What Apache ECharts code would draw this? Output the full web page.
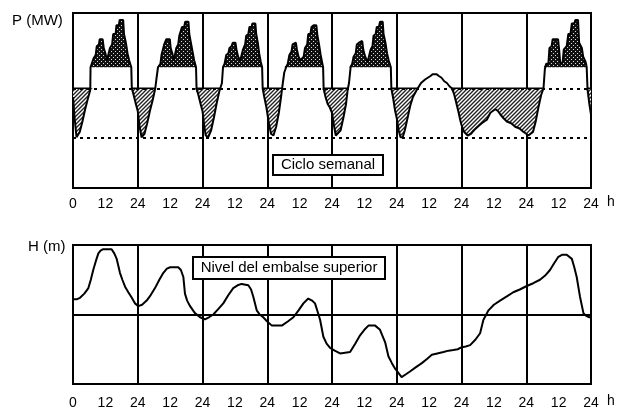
<!DOCTYPE html>
<html><head><meta charset="utf-8">
<script src="https://cdn.jsdelivr.net/npm/echarts@6/dist/echarts.min.js"></script>
<style>html,body{margin:0;padding:0;background:#fff}#c{width:618px;height:410px}</style>
</head><body><div id="c"></div>
<script>
// ---- data ----
const xTickLabels = ['0','12','24','12','24','12','24','12','24','12','24','12','24','12','24','12','24'];
const hoursMax = 192;
const dayLength = 24;
const pumpLevel = 57;     // upper dotted line
const lowLevel = 29;      // lower dotted line
const plateauLevel = 69;  // base generation level
// P (MW) per day: [hour, value]
const mon1 = [[0,52],[0.6,40],[1.3,29],[2.5,32],[3.5,38],[4.5,45],[5.5,51],[6.4,56],[6.5,69],[7.0,70],[7.6,74],[8.4,76],[8.8,81],[9.6,82],[9.9,85],[11.0,85],[11.4,80],[12.0,77],[12.6,73],[13.3,73],[13.7,80],[14.5,82],[14.9,88],[15.8,88],[16.1,93],[17.0,93],[17.3,96],[18.6,96],[18.9,88],[19.6,83],[20.2,77],[20.8,73],[21.6,69],[21.8,57],[22.5,53],[23.3,48],[24,44]];
const tue = [[24.6,36],[25.4,29],[26.5,31],[27.5,37],[28.5,44],[29.5,50],[30.5,57],[30.9,62],[31.5,69],[32.0,70],[32.4,71],[32.8,76],[33.4,76],[33.8,82],[34.4,83],[34.6,85],[35.9,85],[36.2,80],[36.8,77],[37.4,73],[38.0,72],[38.3,80],[39.0,82],[39.4,87],[40.0,88],[40.4,92],[41.2,92],[41.6,95],[42.8,95],[43.1,88],[43.7,83],[44.3,78],[44.9,73],[45.6,69],[45.8,57],[46.5,53],[47.3,48],[48,44]];
const wed = [[48.6,36],[49.2,30],[50.1,29],[51.2,33],[52.2,40],[53.2,48],[54.2,55],[54.6,57],[55.2,60],[55.6,69],[56.2,71],[56.8,76],[57.6,77],[58.0,80],[58.8,81],[59.2,83],[60.2,83],[60.6,79],[61.2,75],[62.0,73],[62.6,74],[63.0,79],[63.8,82],[64.2,87],[65.0,88],[65.4,92],[66.2,92],[66.5,94],[67.0,95],[67.6,94],[67.9,88],[68.5,83],[69.0,77],[69.6,72],[70.1,69],[70.3,57],[70.9,52],[71.7,46],[72,43]];
const thu = [[72.6,37],[73.4,31],[74.3,30],[75.3,35],[76.3,43],[77.2,53],[77.6,58],[78.3,66],[79.0,69],[79.6,71],[80.2,76],[81.0,78],[81.4,82],[82.6,83],[83.0,79],[83.6,75],[84.3,73],[85.0,72],[85.5,75],[86.0,80],[86.8,82],[87.2,88],[88.0,88],[88.4,92],[89.2,93],[89.6,94],[90.2,93],[90.6,87],[91.2,82],[91.8,76],[92.3,72],[92.7,69],[92.9,57],[93.6,52],[94.4,48],[95.2,46],[96,43]];
const fri = [[96.7,36],[97.4,30],[98.1,29],[99.2,33],[100.2,40],[101.2,48],[101.8,56],[102.3,60],[102.9,69],[103.5,71],[104.0,75],[104.8,77],[105.2,82],[106.0,83],[106.3,84],[107.2,84],[107.6,79],[108.3,75],[109.2,72],[109.9,73],[110.3,79],[111.0,81],[111.4,87],[112.2,88],[112.6,92],[113.4,92],[113.8,95],[114.8,95],[115.1,88],[115.8,83],[116.4,77],[117.0,73],[117.8,69],[118.0,57],[118.7,51],[119.4,44],[120,40]];
const sat = [[120.7,33],[121.4,29],[122.2,29],[123.0,33],[124.0,40],[125.0,47],[126.0,52],[127.4,56],[128.2,58],[129.0,60],[129.6,61],[130.5,62],[131.5,63],[132.5,64],[133.3,65],[134.0,66],[134.8,65],[135.6,64],[136.6,63],[137.6,61],[138.6,60],[139.6,58],[140.4,57],[141.2,54],[142.0,49],[142.8,44],[143.5,39],[144,36]];
const sun = [[145.0,32],[146.3,30],[147.5,31],[148.6,33],[150.0,35],[151.5,37],[153.4,39],[154.7,43],[156.5,45],[157.5,44],[158.4,42],[159.5,40],[160.8,38],[162.4,37],[163.9,35],[165.5,34],[167.0,32],[168.0,31]];
const mon2 = [[168.8,30],[169.5,29],[170.5,32],[171.5,38],[172.5,46],[173.5,53],[174.4,57],[174.9,68],[175.4,71],[176.2,71],[176.6,80],[177.4,81],[177.8,85],[179.8,85],[180.2,79],[180.6,71],[181.5,72],[181.9,79],[183.0,81],[183.6,88],[184.4,88],[184.9,94],[185.8,94],[186.2,96],[187.2,96],[187.6,83],[188.6,80],[189.1,75],[190.0,72],[190.4,69],[190.7,57],[191.3,49],[192,42]];
// H (m): reservoir level [hour, value]
const reservoirLevel = [[0,61],[1.5,61],[2.6,62],[4.2,65],[5.7,69],[6.6,75],[7.5,82],[8.4,88],[9.4,94],[10.2,96],[11.2,97],[14.3,97],[15.3,94],[16.2,90],[16.8,85],[17.4,80],[18.3,75],[19.3,70],[20.5,66],[21.8,62],[23.0,58],[24.2,56],[25.6,57],[27.3,60],[28.8,64],[30.4,69],[32.0,75],[33.5,80],[34.8,83],[36,84],[39,84],[40.0,82],[40.9,77],[41.5,65],[42.3,60],[43.4,56],[45.2,51],[47.1,48],[48.9,46.5],[50.4,48],[52,50],[53.9,54],[55.7,58],[57.6,64],[59.4,69],[61.0,71],[62.5,72],[65,71],[66.0,68],[66.8,63],[68.1,53],[69.2,50],[70.5,48],[72.0,45],[73.7,42],[77.4,42],[79.6,45],[81.7,48],[83.6,53],[85.4,58],[87.2,61.5],[88.6,60],[89.7,58],[91,50],[91.6,46],[92.8,34],[94.0,29],[95.3,26],[97.0,24],[99,22],[102.7,23],[104.6,29],[106.4,35],[108.0,39],[109.5,42],[112,42],[113.8,39],[115.7,30],[116.9,20],[118.2,15],[119.4,11],[120.6,8],[121.8,5],[123.4,7],[124.9,9],[127.0,12],[129.3,15],[131.2,18],[133,21],[135.0,22],[137.3,23],[139.2,24],[141,24.5],[142.6,25],[144.1,26.5],[145.6,27],[147.2,28],[149.2,32],[150.9,36.5],[152.1,46],[154,53],[156.0,57],[158.3,60],[160.8,63],[163.2,66],[165.6,68],[168.2,70.5],[170.6,72.5],[173.1,75],[175.0,78],[176.8,82],[178.4,87],[179.9,91.5],[181.4,93],[183,93],[184.9,90],[185.8,84],[186.7,77],[187.9,63],[189.2,51],[190.2,49],[191.4,48],[192,48]];
const topTitle = 'P (MW)';
const bottomTitle = 'H (m)';
const topLabel = 'Ciclo semanal';
const bottomLabel = 'Nivel del embalse superior';
const unitLabel = 'h';

// ---- derived ----
const power = [].concat(mon1, tue, wed, thu, fri, sat, sun, mon2);
const pumpFill = power.map(([h, v]) => [h, Math.min(v, pumpLevel)]);
const genFill = power.map(([h, v]) => [h, Math.max(v, plateauLevel)]);
const pumpEdge = power.map(([h, v], i) => {
  const p = power[i - 1], n = power[i + 1];
  const below = v < pumpLevel || (p && p[1] < pumpLevel) || (n && n[1] < pumpLevel);
  return [h, below ? pumpLevel : null];
});

function makePattern(kind) {
  const c = document.createElement('canvas');
  const ctx = c.getContext('2d');
  if (kind === 'gen') {
    c.width = 4; c.height = 4;
    ctx.fillStyle = '#111'; ctx.fillRect(0, 0, 4, 4);
    ctx.fillStyle = '#d8d8d8'; ctx.fillRect(1, 1, 1, 1); ctx.fillRect(3, 3, 1, 1);
  } else {
    c.width = 4; c.height = 4;
    ctx.fillStyle = '#fff'; ctx.fillRect(0, 0, 4, 4);
    ctx.strokeStyle = '#222'; ctx.lineWidth = 1.4;
    ctx.beginPath();
    ctx.moveTo(-1, 5); ctx.lineTo(5, -1);
    ctx.moveTo(-1, 1); ctx.lineTo(1, -1);
    ctx.moveTo(3, 5); ctx.lineTo(5, 3);
    ctx.stroke();
  }
  return { image: c, repeat: 'repeat' };
}

const labelFont = { color: '#000', fontSize: 14, fontFamily: 'Liberation Sans, Arial, sans-serif' };
function tickFmt(v) { return xTickLabels[Math.round(v / 12)]; }

const chart = echarts.init(document.getElementById('c'), null, { renderer: 'canvas' });
const grids = [
  { left: 73, top: 13, width: 518, height: 175, show: true, borderColor: '#000', borderWidth: 2, backgroundColor: '#fff' },
  { left: 73, top: 245, width: 518, height: 139, show: true, borderColor: '#000', borderWidth: 2, backgroundColor: '#fff' }
];
function labelAxis(gi, margin) {
  return { type: 'value', gridIndex: gi, min: 0, max: hoursMax, interval: 12,
    axisLine: { show: false }, axisTick: { show: false }, splitLine: { show: false },
    axisLabel: Object.assign({ margin: margin, formatter: tickFmt }, labelFont) };
}
function dayAxis(gi) {
  return { type: 'value', gridIndex: gi, min: 0, max: hoursMax, interval: dayLength, position: 'bottom',
    axisLine: { show: false }, axisTick: { show: false }, axisLabel: { show: false },
    splitLine: { show: true, lineStyle: { color: '#000', width: 2 } } };
}
chart.setOption({
  animation: false,
  backgroundColor: '#fff',
  grid: grids,
  xAxis: [labelAxis(0, 9), dayAxis(0), labelAxis(1, 12), dayAxis(1)],
  yAxis: [
    { type: 'value', gridIndex: 0, min: 0, max: 100, axisLine: { show: false }, axisTick: { show: false }, axisLabel: { show: false }, splitLine: { show: false } },
    { type: 'value', gridIndex: 1, min: 0, max: 100, interval: 50, axisLine: { show: false }, axisTick: { show: false }, axisLabel: { show: false },
      splitLine: { show: true, lineStyle: { color: '#000', width: 2 } } }
  ],
  series: [
    { type: 'line', xAxisIndex: 0, yAxisIndex: 0, data: pumpFill, symbol: 'none', silent: true,
      lineStyle: { width: 0 }, areaStyle: { origin: pumpLevel, color: makePattern('pump'), opacity: 1 },
      markLine: { silent: true, symbol: 'none', label: { show: false },
        lineStyle: { color: '#000', type: [3, 4], width: 2 },
        data: [{ yAxis: pumpLevel }, { yAxis: lowLevel }] } },
    { type: 'line', xAxisIndex: 0, yAxisIndex: 0, data: genFill, symbol: 'none', silent: true,
      lineStyle: { width: 0 }, areaStyle: { origin: plateauLevel, color: makePattern('gen'), opacity: 1 } },
    { type: 'line', xAxisIndex: 0, yAxisIndex: 0, data: pumpEdge, symbol: 'none', silent: true, connectNulls: false,
      lineStyle: { color: '#000', width: 1.5 } },
    { type: 'line', xAxisIndex: 0, yAxisIndex: 0, data: power, symbol: 'none', silent: true,
      lineStyle: { color: '#000', width: 2 } },
    { type: 'line', xAxisIndex: 2, yAxisIndex: 1, data: reservoirLevel, symbol: 'none', silent: true,
      lineStyle: { color: '#000', width: 2 } }
  ],
  graphic: [
    { type: 'text', left: 12, top: 13, style: { text: topTitle, fill: '#000', font: '15px "Liberation Sans", Arial, sans-serif' } },
    { type: 'text', left: 28, top: 239, style: { text: bottomTitle, fill: '#000', font: '15px "Liberation Sans", Arial, sans-serif' } },
    { type: 'text', left: 607, top: 195, style: { text: unitLabel, fill: '#000', font: '14px "Liberation Sans", Arial, sans-serif' } },
    { type: 'text', left: 607, top: 394, style: { text: unitLabel, fill: '#000', font: '14px "Liberation Sans", Arial, sans-serif' } },
    { type: 'rect', shape: { x: 273, y: 155, width: 110, height: 20 }, style: { fill: '#fff', stroke: '#000', lineWidth: 2 }, z: 10 },
    { type: 'text', x: 328, y: 165, style: { text: topLabel, fill: '#000', align: 'center', verticalAlign: 'middle', font: '15px "Liberation Sans", Arial, sans-serif' }, z: 11 },
    { type: 'rect', shape: { x: 193, y: 257, width: 192, height: 22 }, style: { fill: '#fff', stroke: '#000', lineWidth: 2 }, z: 10 },
    { type: 'text', x: 289, y: 268, style: { text: bottomLabel, fill: '#000', align: 'center', verticalAlign: 'middle', font: '15px "Liberation Sans", Arial, sans-serif' }, z: 11 }
  ]
});
</script></body></html>
